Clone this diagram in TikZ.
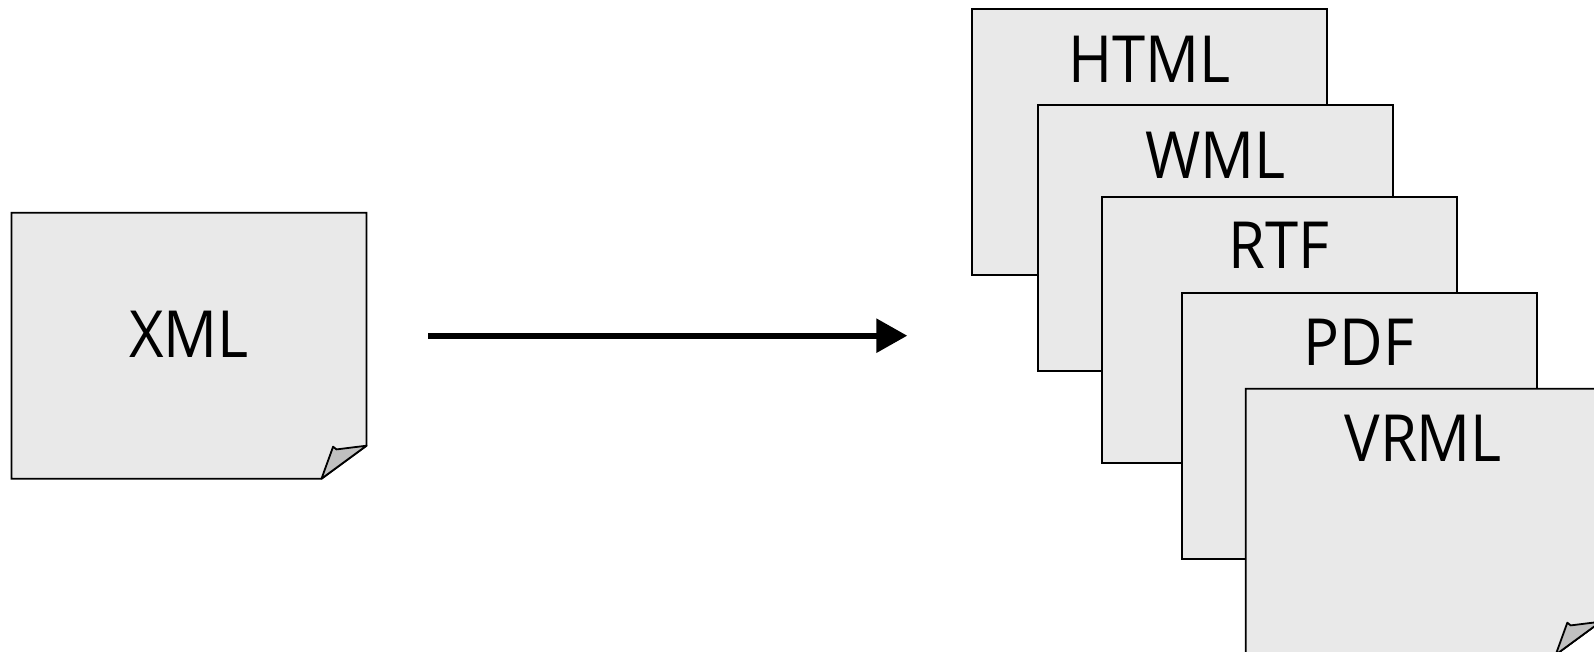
\documentclass[tikz,border=0pt]{standalone}
\usepackage{fontspec}
\setmainfont[FakeStretch=0.92]{Open Sans}
\usetikzlibrary{arrows.meta}
\definecolor{docfill}{HTML}{E9E9E9}
\definecolor{foldfill}{HTML}{C0C0C0}
\tikzset{
  docframe/.style={rectangle, minimum width=355pt, minimum height=266pt, inner sep=0pt, outer sep=0pt, anchor=north west},
  doc/.style={docframe, draw=black, line width=1.8pt, fill=docfill},
  docpaint/.style={draw=black, line width=1.8pt, fill=docfill, line join=miter},
  foldc/.style={draw=black, line width=1.8pt, fill=foldfill, line join=round},
  lbl/.style={font=\fontsize{65}{65}\selectfont, anchor=base, inner sep=0pt},
  conn/.style={line width=6pt, -{Triangle[length=31pt,width=33pt]}},
}
\begin{document}
\begin{tikzpicture}[x=1pt,y=-1pt]
\useasboundingbox (0,0) rectangle (1594,652);
\clip (0,0) rectangle (1594,652);
% XML document
\node[docframe] (xml) at (11.5,212.7) {};
\draw[docpaint] (xml.north west) -- (xml.north east) -- ([yshift=33pt]xml.south east) -- ([xshift=-45pt]xml.south east) -- (xml.south west) -- cycle;
\draw[foldc] ([xshift=-45pt]xml.south east) -- ([xshift=-33.4pt,yshift=32pt]xml.south east) -- ([xshift=-30pt,yshift=29.3pt]xml.south east) -- ([yshift=33pt]xml.south east) -- cycle;
\node[lbl] (xmltext) at ([yshift=-11.4pt]xml.center) {XML};
% arrow
\coordinate (a0) at (428,335.7);
\coordinate (a1) at (907.3,335.7);
\draw[conn] (a0) -- (a1);
% stacked outputs
\node[doc] (html) at (971.7,9) {};
\node[lbl] at ([yshift=-74pt]html.north) {HTML};
\node[doc] (wml) at (1037.7,105) {};
\node[lbl] at ([yshift=-73.3pt]wml.north) {WML};
\node[doc] (rtf) at (1101.7,196.7) {};
\node[lbl] at ([yshift=-72pt]rtf.north) {RTF};
\node[doc] (pdf) at (1181.7,292.7) {};
\node[lbl] at ([yshift=-72.3pt]pdf.north) {PDF};
\node[docframe] (vrml) at (1245.7,388.7) {};
\draw[docpaint] (vrml.north west) -- (vrml.north east) -- ([yshift=33pt]vrml.south east) -- ([xshift=-45pt]vrml.south east) -- (vrml.south west) -- cycle;
\draw[foldc] ([xshift=-45pt]vrml.south east) -- ([xshift=-33.4pt,yshift=32pt]vrml.south east) -- ([xshift=-30pt,yshift=29.3pt]vrml.south east) -- ([yshift=33pt]vrml.south east) -- cycle;
\node[lbl] at ([yshift=-72.3pt]vrml.north) {VRML};
\end{tikzpicture}
\end{document}
